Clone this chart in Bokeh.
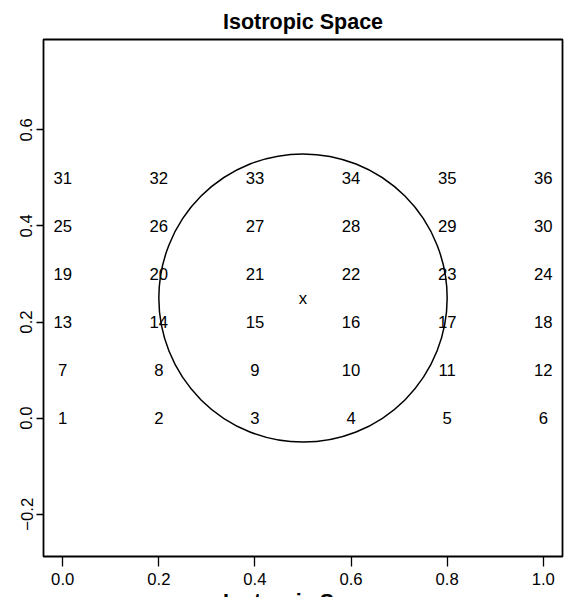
from bokeh.plotting import figure
from bokeh.models import Range1d, FixedTicker, ColumnDataSource
from bokeh.core.properties import value
from bokeh.embed import file_html
from bokeh.resources import INLINE

# Regular 6 x 6 design grid, numbered row by row from the bottom left
grid_x = [0.0, 0.2, 0.4, 0.6, 0.8, 1.0]
grid_y = [0.0, 0.1, 0.2, 0.3, 0.4, 0.5]

# Neighbourhood circle and its centre marker
center_x = [0.5]
center_y = [0.25]
center_mark = ["x"]
radius = 0.3

x_ticks = [0.0, 0.2, 0.4, 0.6, 0.8, 1.0]
x_tick_labels = ["0.0", "0.2", "0.4", "0.6", "0.8", "1.0"]
y_ticks = [-0.2, 0.0, 0.2, 0.4, 0.6]
y_tick_labels = ["\u22120.2", "0.0", "0.2", "0.4", "0.6"]

title_text = "Isotropic Space"
x_label_text = "Isotropic Space"

FONT = "Liberation Sans"
FRAME_W, FRAME_H = 519, 517

# equal aspect: x spans the data with 4% padding, y gets the same px per unit
x_lo, x_hi = -0.04, 1.04
ppu = FRAME_W / (x_hi - x_lo)
y_mid = 0.25
y_half = FRAME_H / ppu / 2.0

pts_x, pts_y, pts_lab = [], [], []
for r, gy in enumerate(grid_y):
    for c, gx in enumerate(grid_x):
        pts_x.append(gx)
        pts_y.append(gy)
        pts_lab.append(str(r * len(grid_x) + c + 1))
src = ColumnDataSource(dict(x=pts_x, y=pts_y, label=pts_lab))

p = figure(frame_width=FRAME_W, frame_height=FRAME_H,
           output_backend="svg", toolbar_location=None,
           title=title_text,
           x_range=Range1d(x_lo, x_hi),
           y_range=Range1d(y_mid - y_half, y_mid + y_half),
           min_border_left=43, min_border_right=2,
           min_border_top=39, min_border_bottom=0)
p.grid.visible = False
p.background_fill_color = "white"
p.border_fill_color = "white"
p.outline_line_color = "black"
p.outline_line_width = 1.8

p.title.align = "center"
p.title.text_font = FONT
p.title.text_font_size = "21.5px"
p.title.text_font_style = "bold"
p.title.text_color = "black"
p.title.standoff = 12
p.title.offset = 0

for ax in (p.xaxis[0], p.yaxis[0]):
    ax.axis_line_color = None
    ax.minor_tick_line_color = None
    ax.major_tick_in = 0
    ax.major_tick_line_color = "black"
    ax.major_tick_line_width = 1.3
    ax.major_label_text_font = FONT
    ax.major_label_text_font_size = "16.7px"
    ax.major_label_text_color = "black"

p.xaxis[0].ticker = FixedTicker(ticks=x_ticks)
p.xaxis[0].major_label_overrides = dict(zip(x_ticks, x_tick_labels))
p.xaxis[0].major_tick_out = 10
p.xaxis[0].major_label_standoff = 6
p.xaxis[0].axis_label = x_label_text
p.xaxis[0].axis_label_text_font = FONT
p.xaxis[0].axis_label_text_font_size = "21.5px"
p.xaxis[0].axis_label_text_font_style = "bold"
p.xaxis[0].axis_label_text_color = "black"
p.xaxis[0].axis_label_standoff = 2

p.yaxis[0].ticker = FixedTicker(ticks=y_ticks)
p.yaxis[0].major_label_overrides = dict(zip(y_ticks, y_tick_labels))
p.yaxis[0].major_label_orientation = "vertical"
p.yaxis[0].major_tick_out = 7
p.yaxis[0].major_label_standoff = 4

p.text(x="x", y="y", text="label", source=src,
       text_font=value(FONT), text_font_size="16.7px",
       text_align="center", text_baseline="middle", text_color="black")

p.circle(x=center_x, y=center_y, radius=radius, fill_color=None,
         line_color="black", line_width=1.5)
p.text(x=center_x, y=center_y, text=center_mark,
       text_font=value(FONT), text_font_size="16.7px",
       text_align="center", text_baseline="middle", text_color="black")

open("out.html", "w").write(file_html(p, INLINE))
